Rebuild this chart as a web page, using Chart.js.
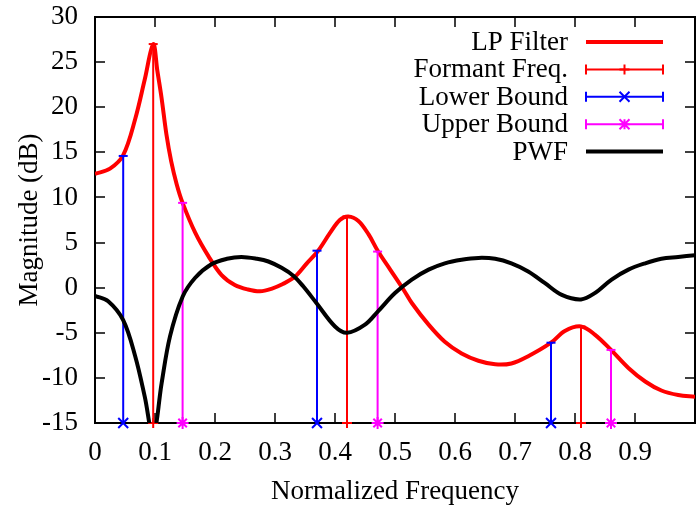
<!DOCTYPE html>
<html>
<head>
<meta charset="utf-8">
<script src="https://cdn.jsdelivr.net/npm/chart.js@4.4.1/dist/chart.umd.min.js"></script>
<style>
    html, body { margin: 0; padding: 0; background: #fff; overflow: hidden; }
    #wrap { width: 696px; height: 508px; overflow: hidden; }
    #lpChart { width: 696px; height: 508px; display: block; }
</style>
</head>
<body>
<div id="wrap"><canvas id="lpChart" width="696" height="508"></canvas></div>
<script>
// LP filter magnitude response (dB) vs normalized frequency
const lpFreq = [0, 0.025, 0.047, 0.067, 0.083, 0.097, 0.104, 0.111, 0.119, 0.127,
    0.136, 0.146, 0.167, 0.189, 0.211, 0.233, 0.255, 0.275, 0.295, 0.313,
    0.333, 0.353, 0.372, 0.392, 0.408, 0.422, 0.439, 0.456, 0.472, 0.492,
    0.514, 0.528, 0.556, 0.583, 0.611, 0.639, 0.667, 0.694, 0.722, 0.76,
    0.783, 0.81, 0.833, 0.86, 0.889, 0.917, 0.944, 0.972, 1];
const lpMag = [12.6, 13.2, 14.7, 18.7, 23.1, 27.0, 24.0, 21.0, 17.0, 14.0,
    11.5, 9.4, 6.1, 3.5, 1.4, 0.3, -0.2, -0.4, -0.1, 0.4,
    1.2, 2.7, 4.1, 6.1, 7.5, 7.9, 7.4, 5.9, 4.0, 2.0,
    -0.2, -1.7, -4.1, -6.0, -7.3, -8.1, -8.5, -8.4, -7.6, -6.1,
    -4.8, -4.3, -5.2, -6.9, -8.9, -10.4, -11.4, -11.9, -12.1];

// perceptual weighting filter
const pwfFreq = [0, 0.022, 0.047, 0.067, 0.083, 0.097, 0.111, 0.125, 0.146, 0.167,
    0.194, 0.22, 0.244, 0.27, 0.289, 0.311, 0.331, 0.347, 0.369, 0.4,
    0.42, 0.45, 0.472, 0.5, 0.528, 0.556, 0.583, 0.611, 0.639, 0.667,
    0.694, 0.722, 0.75, 0.778, 0.81, 0.833, 0.861, 0.889, 0.917, 0.944,
    0.972, 1];
const pwfMag = [-0.9, -1.5, -3.6, -7.6, -12.1, -16.5, -10.6, -5.4, -1.0, 1.1,
    2.6, 3.2, 3.4, 3.2, 2.9, 2.2, 1.3, 0.15, -1.7, -4.3,
    -5.0, -4.1, -2.6, -0.6, 0.9, 2.0, 2.7, 3.1, 3.3, 3.2,
    2.7, 1.8, 0.5, -0.8, -1.3, -0.6, 0.9, 2.0, 2.7, 3.2,
    3.4, 3.6];

const formantFreq = [0.097, 0.42, 0.81];
const formantMag = [27.0, 7.9, -4.3];
const lowerFreq = [0.047, 0.37, 0.76];
const lowerMag = [14.6, 4.1, -6.1];
const upperFreq = [0.146, 0.471, 0.86];
const upperMag = [9.4, 4.0, -6.9];

const yMin = -15;
const yMax = 30;

const FONT = "'Liberation Serif', 'Times New Roman', serif";

function toPoints(xs, ys){
    return xs.map((x, i) => ({x: x, y: ys[i]}));
}

// vertical bars from the bottom of the axis up to each value
function impulses(xs, ys, marker, markerSize){
    const data = [], styles = [], radii = [];
    xs.forEach((x, i) => {
        data.push({x: x, y: yMin}, {x: x, y: ys[i]}, {x: x, y: null});
        styles.push(marker, "line", "line");
        radii.push(markerSize, 4.5, 0);
    });
    return {data, styles, radii};
}

function impulseDataset(label, color, xs, ys, marker, markerSize, order){
    const imp = impulses(xs, ys, marker, markerSize);
    return {
        label: label,
        data: imp.data,
        borderColor: color,
        backgroundColor: color,
        borderWidth: 2,
        pointStyle: imp.styles,
        pointRadius: imp.radii,
        pointBorderWidth: 2,
        pointBorderColor: color,
        spanGaps: false,
        tension: 0,
        clip: false,
        order: order,
        legendMarker: marker
    };
}

function drawMarker(ctx, style, x, y, r){
    ctx.beginPath();
    if(style === "cross" || style === "star"){
        ctx.moveTo(x - r, y); ctx.lineTo(x + r, y);
        ctx.moveTo(x, y - r); ctx.lineTo(x, y + r);
    }
    if(style === "crossRot" || style === "star"){
        ctx.moveTo(x - r, y - r); ctx.lineTo(x + r, y + r);
        ctx.moveTo(x - r, y + r); ctx.lineTo(x + r, y - r);
    }
    ctx.stroke();
}

const frameTicks = {
    id: "frameTicks",
    beforeDatasetsDraw(chart){
        const {ctx, chartArea: a, scales: {x, y}} = chart;
        ctx.save();
        ctx.strokeStyle = "#000";
        ctx.lineWidth = 2;
        ctx.strokeRect(a.left, a.top, a.right - a.left, a.bottom - a.top);
        ctx.lineWidth = 1.5;
        ctx.beginPath();
        x.ticks.forEach(t => {
            const px = Math.round(x.getPixelForValue(t.value));
            ctx.moveTo(px, a.bottom); ctx.lineTo(px, a.bottom - 10);
            ctx.moveTo(px, a.top); ctx.lineTo(px, a.top + 10);
        });
        y.ticks.forEach(t => {
            const py = Math.round(y.getPixelForValue(t.value));
            ctx.moveTo(a.left, py); ctx.lineTo(a.left + 10, py);
            ctx.moveTo(a.right, py); ctx.lineTo(a.right - 10, py);
        });
        ctx.stroke();
        ctx.restore();
    },
    afterDraw(chart){
        const ctx = chart.ctx;
        const textRight = 568, x0 = 586, x1 = 663, xm = 624.5;
        ctx.save();
        ctx.font = "27px " + FONT;
        ctx.textAlign = "right";
        ctx.textBaseline = "middle";
        chart.data.datasets.forEach((ds, i) => {
            const yy = 42 + i * 27.4;
            ctx.fillStyle = "#000";
            ctx.fillText(ds.label, textRight, yy + 1);
            ctx.strokeStyle = ds.borderColor;
            ctx.lineWidth = ds.borderWidth;
            ctx.beginPath();
            ctx.moveTo(x0, yy); ctx.lineTo(x1, yy);
            if(ds.legendMarker){
                ctx.moveTo(x0, yy - 5); ctx.lineTo(x0, yy + 5);
                ctx.moveTo(x1, yy - 5); ctx.lineTo(x1, yy + 5);
            }
            ctx.stroke();
            if(ds.legendMarker){
                ctx.lineWidth = 2;
                drawMarker(ctx, ds.legendMarker, xm, yy, 5);
            }
        });
        ctx.restore();
    }
};

Chart.defaults.font.family = FONT;
Chart.defaults.font.size = 27;
Chart.defaults.color = "#000";

const ctx = document.getElementById("lpChart").getContext("2d");
new Chart(ctx, {
    type: "line",
    data: {
        datasets: [
            {
                label: "LP Filter",
                data: toPoints(lpFreq, lpMag),
                borderColor: "#ff0000",
                borderWidth: 4,
                pointRadius: 0,
                tension: 0.35,
                order: 5
            },
            impulseDataset("Formant Freq.", "#ff0000", formantFreq, formantMag, "cross", 5, 4),
            impulseDataset("Lower Bound", "#0000ff", lowerFreq, lowerMag, "crossRot", 7, 3),
            impulseDataset("Upper Bound", "#ff00ff", upperFreq, upperMag, "star", 6, 2),
            {
                label: "PWF",
                data: toPoints(pwfFreq, pwfMag),
                borderColor: "#000000",
                borderWidth: 4,
                pointRadius: 0,
                tension: 0.35,
                order: 1
            }
        ]
    },
    options: {
        responsive: false,
        devicePixelRatio: 1,
        animation: false,
        layout: {
            autoPadding: false,
            padding: {top: 17, right: 1, bottom: 0, left: 0}
        },
        plugins: {
            legend: {display: false},
            tooltip: {enabled: false}
        },
        scales: {
            x: {
                type: "linear",
                min: 0,
                max: 1,
                grid: {display: false, drawTicks: false, tickLength: 0},
                border: {display: false},
                ticks: {
                    stepSize: 0.1,
                    padding: 14,
                    maxRotation: 0,
                    autoSkip: false,
                    // the "1" label sits past the right edge of the picture
                    callback: (v) => v >= 1 ? "" : String(Math.round(v * 10) / 10)
                },
                title: {
                    display: true,
                    text: "Normalized Frequency",
                    padding: {top: 0, bottom: 0}
                },
                afterFit: (scale) => {
                    scale.height = 85;
                    scale.paddingLeft = 0;
                    scale.paddingRight = 0;
                }
            },
            y: {
                type: "linear",
                min: yMin,
                max: yMax,
                grid: {display: false, drawTicks: false, tickLength: 0},
                border: {display: false},
                ticks: {
                    stepSize: 5,
                    padding: 17
                },
                title: {
                    display: true,
                    text: "Magnitude (dB)",
                    padding: {top: 14, bottom: 0}
                },
                afterFit: (scale) => {
                    scale.width = 95;
                    scale.paddingTop = 0;
                    scale.paddingBottom = 0;
                }
            }
        }
    },
    plugins: [frameTicks]
});
</script>
</body>
</html>
